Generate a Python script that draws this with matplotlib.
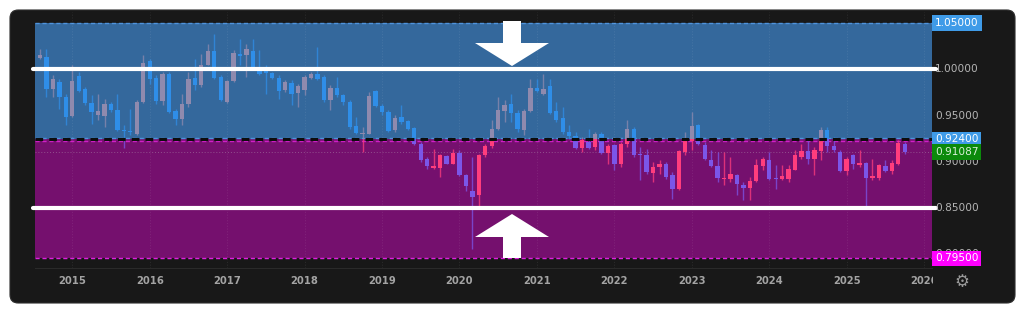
import matplotlib
matplotlib.use("Agg")
import matplotlib.pyplot as plt
import numpy as np
from matplotlib.patches import Rectangle, Polygon, FancyBboxPatch

# monthly candles, first candle = Aug 2014
opens = [1.0123, 1.0134, 0.9791, 0.9863, 0.9700, 0.9494, 0.9930, 0.9791, 0.9639, 0.9509,
         0.9494, 0.9624, 0.9563, 0.9339, 0.9335, 0.9302, 0.9646, 1.0087, 0.9907, 0.9661,
         0.9954, 0.9552, 0.9458, 0.9621, 0.9907, 0.9834, 1.0051, 1.0199, 0.9917, 0.9646,
         0.9870, 1.0171, 1.0160, 1.0199, 1.0015, 0.9990, 0.9961, 0.9910, 0.9773, 0.9856,
         0.9744, 0.9773, 0.9910, 0.9946, 0.9917, 0.9664, 0.9802, 0.9719, 0.9647, 0.9386,
         0.9296, 0.9303, 0.9766, 0.9603, 0.9538, 0.9339, 0.9484, 0.9437, 0.9368, 0.9195,
         0.9025, 0.8931, 0.8934, 0.9057, 0.8978, 0.9097, 0.8851, 0.8681, 0.8634, 0.9068,
         0.9166, 0.9358, 0.9549, 0.9622, 0.9528, 0.9347, 0.9549, 0.9799, 0.9737, 0.9817,
         0.9546, 0.9477, 0.9321, 0.9282, 0.9151, 0.9213, 0.9159, 0.9296, 0.9097, 0.9177,
         0.8971, 0.9195, 0.9357, 0.9086, 0.9068, 0.8876, 0.8941, 0.8977, 0.8851, 0.8706,
         0.9104, 0.9223, 0.9393, 0.9183, 0.9014, 0.8952, 0.8815, 0.8815, 0.8851, 0.8749,
         0.8717, 0.8789, 0.8952, 0.9021, 0.8825, 0.8815, 0.8815, 0.8912, 0.9050, 0.9115,
         0.9024, 0.9115, 0.9346, 0.9165, 0.9104, 0.8894, 0.9068, 0.8959, 0.8984, 0.8822,
         0.8822, 0.8948, 0.8894, 0.8970, 0.9194]
highs = [1.0225, 1.0225, 0.9935, 0.9899, 0.9736, 1.0051, 0.9972, 0.9809, 0.9718, 0.9736,
         0.9682, 0.9646, 0.9736, 0.9393, 0.9574, 0.9664, 1.0160, 1.0116, 0.9935, 0.9972,
         0.9972, 0.9574, 0.9736, 0.9972, 1.0116, 1.0171, 1.0279, 1.0388, 0.9935, 0.9881,
         1.0207, 1.0333, 1.0279, 1.0333, 1.0207, 1.0044, 0.9972, 0.9935, 0.9881, 0.9881,
         0.9845, 0.9935, 0.9972, 1.0243, 0.9935, 0.9827, 0.9918, 0.9737, 0.9665, 0.9484,
         0.9376, 0.9755, 0.9781, 0.9629, 0.9556, 0.9502, 0.9611, 0.9448, 0.9376, 0.9213,
         0.9050, 0.9140, 0.9086, 0.9068, 0.9140, 0.9122, 0.8869, 0.9050, 0.9086, 0.9195,
         0.9448, 0.9701, 0.9665, 0.9737, 0.9556, 0.9575, 0.9900, 0.9900, 0.9954, 0.9900,
         0.9647, 0.9593, 0.9394, 0.9321, 0.9267, 0.9358, 0.9321, 0.9321, 0.9195, 0.9195,
         0.9213, 0.9455, 0.9375, 0.9158, 0.9141, 0.8995, 0.9014, 0.8995, 0.8887, 0.9129,
         0.9321, 0.9538, 0.9411, 0.9212, 0.9122, 0.9104, 0.9104, 0.9050, 0.8869, 0.8778,
         0.8833, 0.9032, 0.9050, 0.9104, 0.8959, 0.8959, 0.8959, 0.9122, 0.9194, 0.9248,
         0.9158, 0.9375, 0.9375, 0.9267, 0.9122, 0.9050, 0.9086, 0.9129, 0.8995, 0.9032,
         0.8977, 0.9014, 0.9014, 0.9230, 0.9212]
lows = [1.0116, 0.9700, 0.9700, 0.9574, 0.9393, 0.9483, 0.9755, 0.9610, 0.9411, 0.9447,
        0.9375, 0.9538, 0.9328, 0.9147, 0.9284, 0.9292, 0.9639, 0.9845, 0.9628, 0.9610,
        0.9530, 0.9393, 0.9393, 0.9592, 0.9773, 0.9809, 1.0044, 0.9899, 0.9653, 0.9639,
        0.9863, 1.0044, 0.9917, 1.0008, 0.9935, 0.9736, 0.9899, 0.9682, 0.9755, 0.9610,
        0.9592, 0.9718, 0.9899, 0.9881, 0.9646, 0.9556, 0.9701, 0.9611, 0.9358, 0.9303,
        0.9104, 0.9296, 0.9593, 0.9502, 0.9321, 0.9321, 0.9412, 0.9339, 0.9177, 0.8996,
        0.8923, 0.8923, 0.8833, 0.8971, 0.8971, 0.8840, 0.8681, 0.8055, 0.8507, 0.9050,
        0.9151, 0.9339, 0.9430, 0.9430, 0.9321, 0.9285, 0.9538, 0.9755, 0.9719, 0.9520,
        0.9430, 0.9303, 0.9249, 0.9140, 0.9104, 0.9140, 0.9130, 0.9086, 0.8978, 0.8905,
        0.8942, 0.9159, 0.9050, 0.8796, 0.8869, 0.8778, 0.8869, 0.8815, 0.8598, 0.8688,
        0.9068, 0.9122, 0.9176, 0.9014, 0.8941, 0.8778, 0.8742, 0.8778, 0.8634, 0.8579,
        0.8579, 0.8778, 0.8905, 0.8796, 0.8706, 0.8796, 0.8778, 0.8905, 0.9032, 0.8977,
        0.8851, 0.9014, 0.9104, 0.9104, 0.8887, 0.8851, 0.8923, 0.8941, 0.8490, 0.8796,
        0.8796, 0.8887, 0.8869, 0.8959, 0.9079]
closes = [1.0152, 0.9791, 0.9899, 0.9700, 0.9483, 0.9870, 0.9765, 0.9639, 0.9538, 0.9545,
          0.9628, 0.9563, 0.9339, 0.9328, 0.9321, 0.9650, 1.0073, 0.9892, 0.9661, 0.9954,
          0.9538, 0.9458, 0.9628, 0.9899, 0.9834, 1.0051, 1.0199, 0.9907, 0.9664, 0.9874,
          1.0178, 1.0145, 1.0218, 1.0015, 0.9954, 0.9961, 0.9907, 0.9765, 0.9863, 0.9736,
          0.9816, 0.9914, 0.9946, 0.9899, 0.9664, 0.9798, 0.9719, 0.9647, 0.9376, 0.9314,
          0.9303, 0.9712, 0.9603, 0.9538, 0.9332, 0.9477, 0.9430, 0.9358, 0.9195, 0.9014,
          0.8949, 0.8952, 0.9068, 0.8978, 0.9097, 0.8851, 0.8732, 0.8616, 0.9068, 0.9166,
          0.9358, 0.9556, 0.9611, 0.9528, 0.9350, 0.9546, 0.9799, 0.9766, 0.9792, 0.9531,
          0.9455, 0.9321, 0.9282, 0.9151, 0.9231, 0.9151, 0.9303, 0.9097, 0.9166, 0.8971,
          0.9195, 0.9358, 0.9068, 0.9075, 0.8887, 0.8941, 0.8977, 0.8833, 0.8706, 0.9115,
          0.9223, 0.9382, 0.9187, 0.9032, 0.8952, 0.8825, 0.8825, 0.8862, 0.8753, 0.8717,
          0.8789, 0.8959, 0.9024, 0.8807, 0.8815, 0.8840, 0.8916, 0.9068, 0.9115, 0.9024,
          0.9122, 0.9346, 0.9169, 0.9129, 0.8894, 0.9032, 0.8970, 0.8984, 0.8825, 0.8840,
          0.8959, 0.8898, 0.8984, 0.9205, 0.9109]
first_month = 2014 + 7 / 12

upper_zone = (0.924, 1.05)
lower_zone = (0.795, 0.924)
levels = [1.00, 0.85]
last_price = 0.91087
years = list(range(2015, 2027))
axis_prices = [1.00, 0.95, 0.90, 0.85, 0.80]

W, H = 1024, 313
DARK = '#181818'
fig = plt.figure(figsize=(W / 100, H / 100), dpi=100)
fig.patch.set_facecolor('white')


def px(x, y):
    # pixel position (from top left) -> figure fraction
    return x / W, 1 - y / H


panel = FancyBboxPatch(px(10, 303), 1005 / W, 293 / H,
                       boxstyle='round,pad=0,rounding_size=0.008',
                       mutation_aspect=W / H, transform=fig.transFigure,
                       fc=DARK, ec='#2c2c2c', lw=0.8, zorder=-1)
fig.add_artist(panel)

ax = fig.add_axes([35 / W, 1 - 268 / H, 897 / W, 256 / H])
ax.set_facecolor('none')
ax.set_xlim(2014.519, 2026.102)
ax.set_ylim(0.7847, 1.0622)

# zones
ax.axhspan(*upper_zone, color='#34689c', lw=0, zorder=1)
ax.axhspan(*lower_zone, color='#75106e', lw=0, zorder=1)
ax.axhline(upper_zone[1], color='#4f93dc', lw=1, ls=(0, (3, 2)), zorder=2)
ax.axhline(upper_zone[0] + 0.0012, color='#4f93dc', lw=1, ls=(0, (3, 2)), zorder=2)
ax.axhline(lower_zone[1] - 0.0012, color='#d020c8', lw=1, ls=(0, (3, 2)), zorder=2)
ax.axhline(lower_zone[1], color='#0d0d0d', lw=2.2, ls=(0, (2.5, 2)), zorder=6)
ax.axhline(lower_zone[0], color='#e020e0', lw=1, ls=(0, (3, 2)), zorder=2)
ax.axhline(last_price, color='#c8c8c8', lw=0.7, ls=(0, (1, 2)), alpha=0.35, zorder=2)

# candles, coloured differently above / below the zone boundary
x = first_month + np.arange(len(opens)) / 12
o = np.array(opens)
c = np.array(closes)
up = c >= o
bottom = np.minimum(o, c)
height = np.maximum(np.abs(c - o), 0.0009)
xl = ax.get_xlim()

zone_colors = [(upper_zone, '#8f8aae', '#2f8ee8'), (lower_zone, '#ff3d7d', '#7b56e8')]
for (lo, hi), up_col, dn_col in zone_colors:
    clip = Rectangle((xl[0], lo), xl[1] - xl[0], hi - lo + 0.2 * (hi > 1), transform=ax.transData)
    if hi > 1:
        clip = Rectangle((xl[0], lo), xl[1] - xl[0], 1.0, transform=ax.transData)
    else:
        clip = Rectangle((xl[0], 0.5), xl[1] - xl[0], lo + (hi - lo) - 0.5, transform=ax.transData)
    cols = [up_col if u else dn_col for u in up]
    wk = ax.vlines(x, lows, highs, colors=cols, lw=1, alpha=0.75, zorder=3)
    wk.set_clip_path(clip)
    bars = ax.bar(x, height, bottom=bottom, width=0.056, color=cols, lw=0, zorder=4)
    for b in bars:
        b.set_clip_path(clip)

# white level lines
for lv in levels:
    ax.axhline(lv, xmin=-0.002, xmax=1.005, color='white', lw=3, solid_capstyle='round',
               clip_on=False, zorder=7)

# axes, year ticks
ax.set_xticks(years)
ax.set_xticklabels([str(y) for y in years], fontsize=7.2, fontweight='bold', color='#a3a3a3')
ax.tick_params(axis='x', length=0, pad=6)
ax.set_yticks([])
ax.grid(axis='x', color='#ffffff', alpha=0.08, lw=0.8, ls=(0, (1, 1.5)))
ax.set_axisbelow(False)
for s in ['top', 'left', 'right']:
    ax.spines[s].set_visible(False)
ax.spines['bottom'].set_color('#2a2a2a')

# price scale labels
for p in axis_prices:
    ax.annotate(f'{p:.5f}', xy=(1, p), xycoords=('axes fraction', 'data'), xytext=(3, 0),
                textcoords='offset pixels', ha='left', va='center', fontsize=7.6,
                color='#b4b4b4', annotation_clip=False, zorder=8)

boxed = [(upper_zone[1], '#3f9be8', 'white'), (lower_zone[1] - 0.0022, '#ff00ff', 'white'),
         (upper_zone[0], '#3f9be8', 'white'), (last_price, '#0b8a0b', '#d8f0d8'),
         (lower_zone[0], '#ff00ff', 'white')]
for p, fc, tc in boxed:
    ax.annotate(f'{p:.5f}' if fc != '#ff00ff' or p == lower_zone[0] else '',
                xy=(1, p), xycoords=('axes fraction', 'data'), xytext=(3, 0),
                textcoords='offset pixels', ha='left', va='center', fontsize=7.6,
                color=tc, annotation_clip=False, zorder=9,
                bbox=dict(boxstyle='square,pad=0.28', fc=fc, ec='none'))

# arrows pointing at the level lines
down_arrow = [(503, 21), (521, 21), (521, 43), (549, 43), (512, 66), (475, 43), (503, 43)]
up_arrow = [(503, 258), (521, 258), (521, 237), (549, 237), (512, 214), (475, 237), (503, 237)]
for pts in [down_arrow, up_arrow]:
    fig.add_artist(Polygon([px(a, b) for a, b in pts], closed=True, transform=fig.transFigure,
                           fc='white', ec='none', zorder=4))

# cut the last year label at the price scale, gear icon
fig.add_artist(Rectangle(px(933, 296), 70 / W, 26 / H, transform=fig.transFigure,
                         fc=DARK, ec='none', zorder=5))
fig.text(*px(962, 282), '\u2699', fontsize=12, color='#9a9a9a', ha='center', va='center', zorder=6)

fig.savefig('out.png', dpi=100, facecolor='white')
